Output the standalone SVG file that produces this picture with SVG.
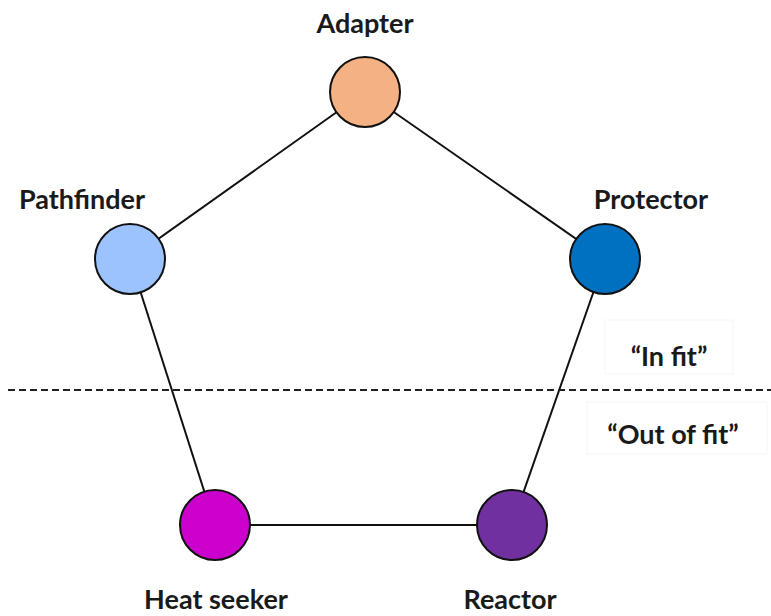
<svg xmlns="http://www.w3.org/2000/svg" width="771" height="616" viewBox="0 0 771 616">
<style>
.lbl{font-family:Lato,"Open Sans","Liberation Sans",sans-serif;font-weight:bold;font-size:27px;fill:#1a1a1a;text-anchor:middle}
.node{stroke:#111;stroke-width:2}
.edge{stroke:#111;stroke-width:2;fill:none}
</style>
<rect width="771" height="616" fill="#fff"/>
<rect x="605" y="320" width="128" height="54" fill="none" stroke="#f5f5f5" stroke-width="1"/>
<rect x="587" y="402" width="180" height="52" fill="none" stroke="#f5f5f5" stroke-width="1"/>
<g id="connectors">
<line class="edge" x1="365" y1="92" x2="130" y2="259"/>
<line class="edge" x1="365" y1="92" x2="605" y2="259"/>
<line class="edge" x1="130" y1="259" x2="215" y2="525"/>
<line class="edge" x1="605" y1="259" x2="512" y2="525"/>
<line class="edge" x1="215" y1="525" x2="512" y2="525"/>
</g>
<line x1="8" y1="390" x2="771" y2="390" stroke="#222" stroke-width="2.2" stroke-dasharray="7,4"/>
<g id="adapter"><circle class="node" cx="365" cy="92" r="35" fill="#F4B183"/><text class="lbl" x="365" y="33">Adapter</text></g>
<g id="pathfinder"><circle class="node" cx="130" cy="259" r="35" fill="#9DC3FF"/><text class="lbl" x="82" y="209">Pathfinder</text></g>
<g id="protector"><circle class="node" cx="605" cy="259" r="35" fill="#0070C0"/><text class="lbl" x="651" y="209">Protector</text></g>
<g id="heat-seeker"><circle class="node" cx="215" cy="525" r="35" fill="#CC00CC"/><text class="lbl" x="216" y="609">Heat seeker</text></g>
<g id="reactor"><circle class="node" cx="512" cy="525" r="35" fill="#7030A0"/><text class="lbl" x="510" y="609">Reactor</text></g>
<text class="lbl" x="669" y="366">“In fit”</text>
<text class="lbl" x="673" y="444">“Out of fit”</text>
</svg>
